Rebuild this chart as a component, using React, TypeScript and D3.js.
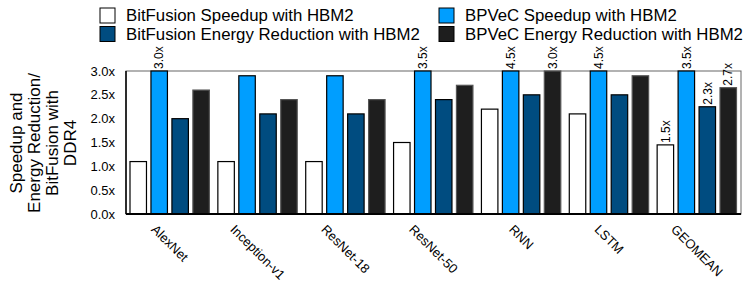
import React, { useEffect, useRef } from 'react';
import * as d3 from 'd3';

const categories = ['AlexNet', 'Inception-v1', 'ResNet-18', 'ResNet-50', 'RNN', 'LSTM', 'GEOMEAN'];
const seriesNames = [
  'BitFusion Speedup with HBM2',
  'BPVeC Speedup with HBM2',
  'BitFusion Energy Reduction with HBM2',
  'BPVeC Energy Reduction with HBM2',
];
const bitfusionSpeedup = [1.1, 1.1, 1.1, 1.5, 2.2, 2.1, 1.45];
const bpvecSpeedup = [3.0, 2.9, 2.9, 3.5, 4.5, 4.5, 3.5];
const bitfusionEnergy = [2.0, 2.1, 2.1, 2.4, 2.5, 2.5, 2.25];
const bpvecEnergy = [2.6, 2.4, 2.4, 2.7, 3.0, 2.9, 2.65];
const bitfusionSpeedupLabels = [null, null, null, null, null, null, '1.5x'];
const bpvecSpeedupLabels = ['3.0x', null, null, '3.5x', '4.5x', '4.5x', '3.5x'];
const bitfusionEnergyLabels = [null, null, null, null, null, null, '2.3x'];
const bpvecEnergyLabels = [null, null, null, null, '3.0x', null, '2.7x'];
const yTicks = [0, 0.5, 1.0, 1.5, 2.0, 2.5, 3.0];
const yTitle = ['Speedup and', 'Energy Reduction/', 'BitFusion with', 'DDR4'];

const colors = ['#ffffff', '#009eff', '#004c80', '#1e1e1e'];
const strokes = ['#000', '#000', '#000', '#555'];

const App = () => {
  const svgRef = useRef<SVGSVGElement>(null);

  useEffect(() => {
    document.body.style.margin = '0';
    const width = 747;
    const height = 283;
    const margin = { top: 71, right: 6, bottom: 69, left: 126 };
    const font = 'Liberation Sans, Arial, Helvetica, sans-serif';

    const svg = d3.select(svgRef.current);
    svg.selectAll('*').remove();
    svg.attr('width', width).attr('height', height).style('font-family', font);

    const values = [bitfusionSpeedup, bpvecSpeedup, bitfusionEnergy, bpvecEnergy];
    const labels = [bitfusionSpeedupLabels, bpvecSpeedupLabels, bitfusionEnergyLabels, bpvecEnergyLabels];

    const x0 = d3
      .scaleBand()
      .domain(categories)
      .range([margin.left, width - margin.right]);

    const x1 = d3
      .scaleBand()
      .domain(seriesNames)
      .range([4, x0.bandwidth() - 4.5])
      .paddingInner(0.214);

    const y = d3
      .scaleLinear()
      .domain([0, 3])
      .range([height - margin.bottom, margin.top]);

    // frame (top and right)
    svg
      .append('rect')
      .attr('x', margin.left)
      .attr('y', margin.top)
      .attr('width', width - margin.left - margin.right)
      .attr('height', height - margin.top - margin.bottom)
      .attr('fill', 'none')
      .attr('stroke', '#666')
      .attr('stroke-width', 1);

    // bars
    const g = svg.append('g');
    categories.forEach((cat, i) => {
      seriesNames.forEach((s, j) => {
        const v = values[j][i];
        const bx = (x0(cat) as number) + (x1(s) as number);
        const top = Math.max(y(v), y(3));
        g.append('rect')
          .attr('x', bx)
          .attr('y', top)
          .attr('width', x1.bandwidth())
          .attr('height', y(0) - top)
          .attr('fill', colors[j])
          .attr('stroke', strokes[j])
          .attr('stroke-width', 1.2);
        const lab = labels[j][i];
        if (lab) {
          g.append('text')
            .attr('transform', `translate(${bx + x1.bandwidth() / 2},${top - 2}) rotate(-90)`)
            .attr('dy', '0.35em')
            .attr('text-anchor', 'start')
            .style('font-size', '12px')
            .text(lab);
        }
      });
    });

    // axes lines
    svg
      .append('line')
      .attr('x1', margin.left)
      .attr('x2', margin.left)
      .attr('y1', margin.top)
      .attr('y2', y(0))
      .attr('stroke', '#000')
      .attr('stroke-width', 1.5);
    svg
      .append('line')
      .attr('x1', margin.left)
      .attr('x2', width - margin.right)
      .attr('y1', y(0))
      .attr('y2', y(0))
      .attr('stroke', '#000')
      .attr('stroke-width', 2);

    // y tick labels
    svg
      .append('g')
      .selectAll('text')
      .data(yTicks)
      .enter()
      .append('text')
      .attr('x', margin.left - 11)
      .attr('y', (d) => y(d))
      .attr('dy', '0.35em')
      .attr('text-anchor', 'end')
      .style('font-size', '13px')
      .text((d) => d3.format('.1f')(d) + 'x');

    // x labels, rotated 45deg, top-left corner kept at a fixed line
    const xl = svg.append('g');
    categories.forEach((cat) => {
      const cx = (x0(cat) as number) + x0.bandwidth() / 2;
      const t = xl
        .append('text')
        .attr('text-anchor', 'middle')
        .attr('dy', '0.35em')
        .style('font-size', '13px')
        .text(cat);
      const len = (t.node() as SVGTextElement).getComputedTextLength();
      t.attr('transform', `translate(${cx},${227 + (len / 2) * Math.SQRT1_2}) rotate(45)`);
    });

    // y title
    const title = svg
      .append('text')
      .attr('transform', `translate(43,143) rotate(-90)`)
      .attr('text-anchor', 'middle')
      .style('font-size', '17px');
    yTitle.forEach((line, i) => {
      title
        .append('tspan')
        .attr('x', 0)
        .attr('y', (i - (yTitle.length - 1) / 2) * 18)
        .attr('dy', '0.35em')
        .text(line);
    });

    // legend
    const legendPos = [
      [100, 8],
      [439, 8],
      [100, 26.5],
      [439, 26.5],
    ];
    const legend = svg.append('g');
    seriesNames.forEach((s, j) => {
      const [lx, ly] = legendPos[j];
      legend
        .append('rect')
        .attr('x', lx)
        .attr('y', ly)
        .attr('width', 15)
        .attr('height', 15)
        .attr('fill', colors[j])
        .attr('stroke', '#000')
        .attr('stroke-width', 1);
      legend
        .append('text')
        .attr('x', lx + 26)
        .attr('y', ly + 7.5)
        .attr('dy', '0.35em')
        .style('font-size', '16.8px')
        .text(s);
    });
  }, []);

  return <svg ref={svgRef} style={{ display: 'block' }}></svg>;
};

export default App;
